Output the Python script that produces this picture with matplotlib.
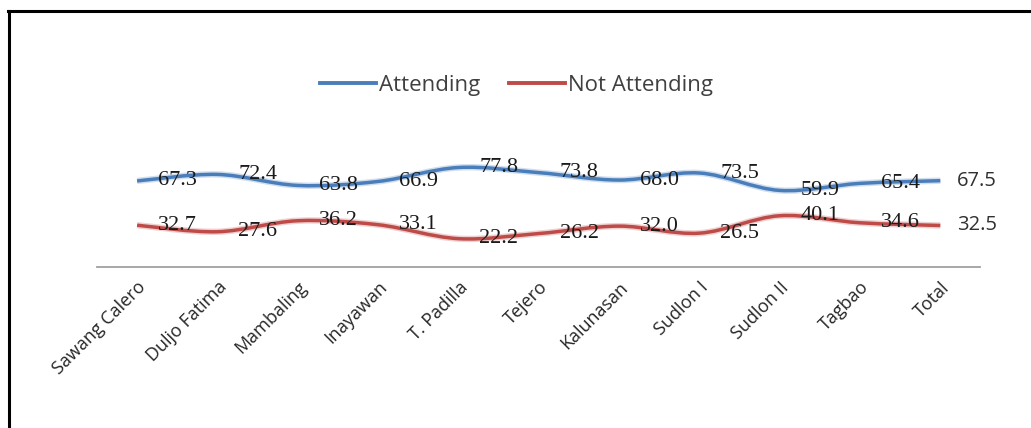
import matplotlib
matplotlib.use('Agg')
import matplotlib.pyplot as plt
import numpy as np
from matplotlib.lines import Line2D
from matplotlib.patches import PathPatch
from matplotlib.path import Path

categories = ['Sawang Calero', 'Duljo Fatima', 'Mambaling', 'Inayawan', 'T. Padilla',
              'Tejero', 'Kalunasan', 'Sudlon I', 'Sudlon II', 'Tagbao', 'Total']
attending = [67.3, 72.4, 63.8, 66.9, 77.8, 73.8, 68.0, 73.5, 59.9, 65.4, 67.5]
not_attending = [32.7, 27.6, 36.2, 33.1, 22.2, 26.2, 32.0, 26.5, 40.1, 34.6, 32.5]

BLUE = '#4a7ebb'
RED = '#be4b48'


def smooth_path(xs, ys):
    # bezier segments through every point, like a spreadsheet "smoothed line"
    pts = np.column_stack([xs, ys]).astype(float)
    n = len(pts)
    verts = [pts[0]]
    codes = [Path.MOVETO]
    for i in range(n - 1):
        p0 = pts[max(i - 1, 0)]
        p1 = pts[i]
        p2 = pts[i + 1]
        p3 = pts[min(i + 2, n - 1)]
        c1 = p1 + (p2 - p0) / 6.0
        c2 = p2 - (p3 - p1) / 6.0
        verts += [c1, c2, p2]
        codes += [Path.CURVE4] * 3
    return Path(verts, codes)


fig = plt.figure(figsize=(10.31, 4.28), dpi=100)
ax = fig.add_axes([0.094, 0.376, 0.857, 0.299])

x = np.arange(len(categories))
for vals, color, name in [(attending, BLUE, 'Attending'), (not_attending, RED, 'Not Attending')]:
    path = smooth_path(x, vals)
    ax.add_patch(PathPatch(path, facecolor='none', edgecolor=color, lw=4.6, alpha=0.25,
                           capstyle='butt'))
    ax.add_patch(PathPatch(path, facecolor='none', edgecolor=color, lw=2.5, capstyle='butt'))
    ax.plot([], [], color=color, lw=2.8, label=name)
    for i, v in enumerate(vals):
        if i == len(vals) - 1:
            ax.annotate(f'{v:.1f}', (i, v), xytext=(12, 0), textcoords='offset points',
                        ha='left', va='center', fontsize=14.5, color='#303030',
                        family='Open Sans')
        else:
            ax.annotate(f'{v:.1f}', (i, v), xytext=(15, 0), textcoords='offset points',
                        ha='left', va='center', fontsize=16, color='#1a1a1a',
                        family='Liberation Serif')

ax.set_xlim(-0.5, len(categories) - 0.5)
ax.set_ylim(0, 100)
ax.set_yticks([])
ax.set_xticks(x)
ax.set_xticklabels(categories, rotation=45, ha='right', va='top', rotation_mode='anchor',
                   fontsize=13, family='Open Sans', color='#262626')
ax.tick_params(axis='x', length=0, pad=8)
for side in ['top', 'left', 'right']:
    ax.spines[side].set_visible(False)
ax.spines['bottom'].set_color('#a0a0a0')
ax.spines['bottom'].set_linewidth(1.3)

leg = fig.legend(loc='center', bbox_to_anchor=(0.501, 0.80), ncol=2, frameon=False,
                 prop={'family': 'Open Sans', 'size': 16}, handlelength=2.5,
                 handletextpad=0.15, columnspacing=1.3)
for t in leg.get_texts():
    t.set_color('#404040')

# frame lines along the top and left edge
fig.add_artist(Line2D([0.008, 1.0], [0.974, 0.974], color='black', lw=2.2))
fig.add_artist(Line2D([0.009, 0.009], [0.0, 0.974], color='black', lw=2.2))

fig.savefig('out.png', dpi=100)
